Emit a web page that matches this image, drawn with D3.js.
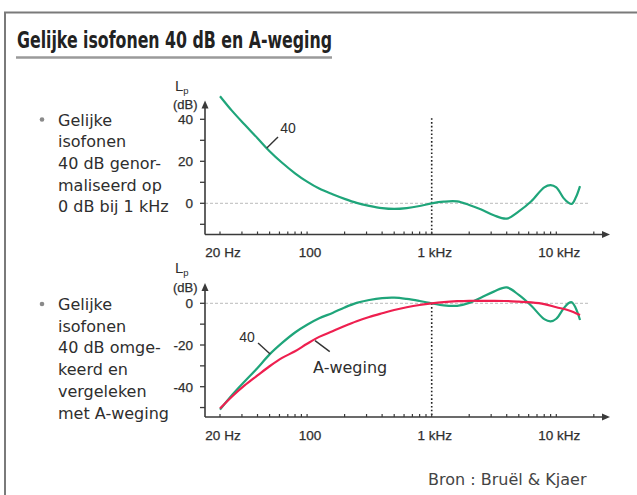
<!DOCTYPE html>
<html><head><meta charset="utf-8">
<script src="https://cdn.jsdelivr.net/npm/d3@7"></script>
<style>body{margin:0;background:#fff} svg{display:block}</style>
</head><body><svg id="c" width="637" height="495"></svg>
<script>
// ---------- DATA ----------
const titleText = "Gelijke isofonen 40 dB en A-weging";
const sourceText = "Bron : Bruël & Kjaer";
const noteTop = ["Gelijke", "isofonen", "40 dB genor-", "maliseerd op", "0 dB bij 1 kHz"];
const noteBottom = ["Gelijke", "isofonen", "40 dB omge-", "keerd en", "vergeleken", "met A-weging"];

const freqMajorTicks = [20, 100, 1000, 10000];
const freqTickLabels = ["20 Hz", "100", "1 kHz", "10 kHz"];
const freqMinorTicks = [20,30,40,50,60,70,80,90,100,200,300,400,500,600,700,800,900,1000,2000,3000,4000,5000,6000,7000,8000,9000,10000,20000];

const topYLabels = [40, 20, 0];
const topYTicks = [40, 30, 20, 10, 0, -10];
const bottomYLabels = [0, -20, -40];
const bottomYTicks = [0, -10, -20, -30, -40, -50];

const isoFreq = [20,25,31.5,40,50,63,80,100,125,160,200,250,315,400,500,630,800,1000,1250,1600,2000,2500,3150,4000,5000,6300,8000,9000,10000,11400,12500,13300,14300,15500];
// 40 phon curve normalised to 0 dB at 1 kHz (top panel)
const isoNormalized = [51,44,37.5,31,24.8,19.3,14.3,10.3,7,4.3,2.1,0.2,-1.2,-2.3,-2.7,-2.3,-1.3,0,0.8,0.9,-0.8,-3.0,-5.7,-7.3,-3.8,1.0,7.6,8.7,7.6,2.6,0.3,-0.3,2.6,8.2];
// 40 phon curve inverted (bottom panel)
const isoInverted = [-51,-44,-37.5,-31,-24.5,-19,-14,-10.3,-7.2,-4.6,-2.0,0.2,1.6,2.5,2.7,2.1,1.1,0,-1.0,-1.2,0.2,2.8,5.6,7.6,4.0,-1.2,-7.6,-8.7,-7.4,-2.6,0,0.5,-2.2,-8];

const aFreq = [20,25,31.5,40,50,63,80,100,125,160,200,250,315,400,500,630,800,1000,1250,1600,2000,2500,3150,4000,5000,6300,8000,10000,12500,15500];
const aWeighting = [-50.5,-44.7,-39.4,-34.6,-30.2,-26.2,-23,-19.4,-16.1,-13.4,-10.9,-8.6,-6.6,-4.8,-3.2,-1.9,-0.8,0,0.6,1.0,1.2,1.2,1.2,1.1,0.8,0.4,-0.4,-1.9,-3.3,-5.6];

// annotations in data units [freq, dB]
const topLabel40 = {text:"40", at:[70.3, 33.7], from:[58.4, 31.6], to:[47.5, 26.3]};
const botLabel40 = {text:"40", at:[32.9, -18.6], from:[40.4, -19.0], to:[50.5, -24.3]};
const botLabelA  = {text:"A-weging", at:[111.6, -33.4], from:[115.8, -17.9], to:[152, -23.2]};

// ---------- LAYOUT ----------
const GREEN = "#1fa57a", RED = "#ee1f4f", AX = "#3a3a3a", TXT = "#2e2e2e";
const svg = d3.select("#c");
const x = d3.scaleLog().domain([20, 1000]).range([220, 431.7]);
const yAxisX = 205, xArrowTip = 610, zeroLineEnd = 590;
const AXFONT = "'Liberation Sans',Arial,sans-serif";

// frame
svg.append("path").attr("d", "M5,700 V12.5 H700").attr("fill","none").attr("stroke","#7a7a7a").attr("stroke-width",2);

// title
svg.append("text").attr("x",17).attr("y",48).text(titleText)
  .attr("font-family","'DejaVu Sans Condensed','DejaVu Sans',sans-serif").attr("font-weight","bold")
  .attr("font-size",23).attr("fill","#222").attr("textLength",315).attr("lengthAdjust","spacingAndGlyphs");
svg.append("line").attr("x1",16).attr("x2",332).attr("y1",57.5).attr("y2",57.5).attr("stroke","#9a9a9a").attr("stroke-width",2.5);

// notes
function note(lines, y0){
  svg.append("circle").attr("cx",42).attr("cy",y0-6).attr("r",2.3).attr("fill","#8a8a8a");
  const t = svg.append("text").attr("font-family","'DejaVu Sans',sans-serif").attr("font-size",16).attr("fill",TXT);
  lines.forEach((s,i)=> t.append("tspan").attr("x",58).attr("y",y0+i*21.7).text(s));
}
note(noteTop, 125.5);
note(noteBottom, 310);

svg.append("text").attr("x",428).attr("y",485).text(sourceText)
  .attr("font-family","'DejaVu Sans',sans-serif").attr("font-size",16).attr("fill","#444");

function panel(y, axisY, arrowTip, yTicks, yLabels, dotTop, series){
  const g = svg.append("g");
  g.append("line").attr("x1",yAxisX).attr("x2",zeroLineEnd).attr("y1",y(0)).attr("y2",y(0))
    .attr("stroke","#bbb").attr("stroke-width",1).attr("stroke-dasharray","3,2");
  g.append("line").attr("x1",x(1000)).attr("x2",x(1000)).attr("y1",y(dotTop)).attr("y2",axisY)
    .attr("stroke","#222").attr("stroke-width",1.6).attr("stroke-dasharray","1.6,2.2");
  g.append("line").attr("x1",yAxisX).attr("x2",xArrowTip-6).attr("y1",axisY).attr("y2",axisY).attr("stroke",AX).attr("stroke-width",1.6);
  g.append("path").attr("d",`M${xArrowTip},${axisY} L${xArrowTip-8},${axisY-3.5} L${xArrowTip-8},${axisY+3.5}Z`).attr("fill",AX);
  g.append("line").attr("x1",yAxisX).attr("x2",yAxisX).attr("y1",axisY).attr("y2",arrowTip+6).attr("stroke",AX).attr("stroke-width",1.6);
  g.append("path").attr("d",`M${yAxisX},${arrowTip} L${yAxisX-3.5},${arrowTip+8} L${yAxisX+3.5},${arrowTip+8}Z`).attr("fill",AX);
  g.selectAll(".yt").data(yTicks).join("line").attr("x1",yAxisX-5).attr("x2",yAxisX).attr("y1",d=>y(d)).attr("y2",d=>y(d))
    .attr("stroke",AX).attr("stroke-width",1.3);
  g.selectAll(".yl").data(yLabels).join("text").attr("x",193).attr("y",d=>y(d)).attr("dy","0.36em")
    .attr("text-anchor","end").attr("font-family",AXFONT).attr("font-size",13.5).attr("fill",TXT).attr("stroke",TXT).attr("stroke-width",0.25).text(d=>d);
  g.selectAll(".xt").data(freqMinorTicks).join("line").attr("x1",d=>x(d)).attr("x2",d=>x(d)).attr("y1",axisY-3).attr("y2",axisY)
    .attr("stroke",AX).attr("stroke-width",1.2);
  g.selectAll(".xl").data(freqMajorTicks).join("text").attr("x",d=>x(d)+3).attr("y",axisY+22.5)
    .attr("text-anchor","middle").attr("font-family",AXFONT).attr("font-size",13.5).attr("fill",TXT).attr("stroke",TXT).attr("stroke-width",0.25)
    .text((d,i)=>freqTickLabels[i]);
  const lp = g.append("text").attr("x",175).attr("y",arrowTip-10).attr("font-family",AXFONT).attr("fill",TXT);
  lp.append("tspan").attr("font-size",15).text("L");
  lp.append("tspan").attr("font-size",9.5).attr("dy",3).text("p");
  g.append("text").attr("x",173).attr("y",arrowTip+8.5).attr("font-family",AXFONT)
    .attr("font-size",13).attr("fill",TXT).attr("stroke",TXT).attr("stroke-width",0.25).text("(dB)");
  const line = d3.line().x(d=>x(d[0])).y(d=>y(d[1])).curve(d3.curveCatmullRom.alpha(0.5));
  series.forEach(s=>{
    g.append("path").attr("d",line(s.f.map((f,i)=>[f,s.v[i]]))).attr("fill","none")
      .attr("stroke",s.c).attr("stroke-width",2.2).attr("stroke-linejoin","round");
  });
  return g;
}
function annotate(g, y, a, size, family){
  g.append("line").attr("x1",x(a.from[0])).attr("y1",y(a.from[1])).attr("x2",x(a.to[0])).attr("y2",y(a.to[1]))
    .attr("stroke","#333").attr("stroke-width",1.4);
  g.append("text").attr("x",x(a.at[0])).attr("y",y(a.at[1])).attr("text-anchor", a.text==="40"?"middle":"start")
    .attr("font-family",family).attr("font-size",size).attr("fill",TXT).text(a.text);
}

const yTop = d3.scaleLinear().domain([0,40]).range([203.3,119.3]);
const gTop = panel(yTop, 234.5, 100.5, topYTicks, topYLabels, 40.5,
  [{f:isoFreq, v:isoNormalized, c:GREEN}]);
annotate(gTop, yTop, topLabel40, 14, AXFONT);

const yBot = d3.scaleLinear().domain([0,-40]).range([303.3,386.7]);
const gBot = panel(yBot, 417, 283, bottomYTicks, bottomYLabels, 0,
  [{f:isoFreq, v:isoInverted, c:GREEN},{f:aFreq, v:aWeighting, c:RED}]);
annotate(gBot, yBot, botLabel40, 14, AXFONT);
annotate(gBot, yBot, botLabelA, 16, "'DejaVu Sans',sans-serif");
</script></body></html>
